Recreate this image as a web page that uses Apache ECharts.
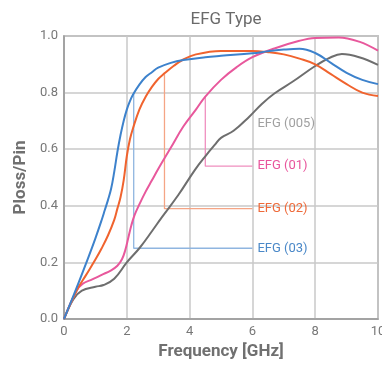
<!DOCTYPE html>
<html>
<head>
<meta charset="utf-8">
<script src="https://cdn.jsdelivr.net/npm/echarts@6/dist/echarts.min.js"></script>
<style>
  html, body { margin: 0; padding: 0; background: #fff; }
  #chart { width: 382px; height: 368px; }
</style>
</head>
<body>
<div id="chart"></div>
<script>
// curves: [GHz, Ploss/Pin]
var efg03 = [[0, 0], [0.4, 0.11], [0.8, 0.225], [1.0, 0.285], [1.2, 0.35], [1.3, 0.385], [1.4, 0.42], [1.5, 0.46],
  [1.6, 0.52], [1.7, 0.59], [1.8, 0.65], [1.9, 0.7], [2.0, 0.74], [2.1, 0.77], [2.2, 0.793], [2.4, 0.828],
  [2.6, 0.855], [2.8, 0.872], [3.0, 0.888], [3.4, 0.905], [3.8, 0.915], [4.5, 0.925], [5.0, 0.93], [6.0, 0.939],
  [6.5, 0.946], [7.0, 0.952], [7.5, 0.955], [8.0, 0.94], [8.5, 0.905], [9.0, 0.87], [9.5, 0.845], [10, 0.83]]
var efg02 = [[0, 0], [0.4, 0.1], [0.7, 0.155], [1.0, 0.21], [1.2, 0.25], [1.4, 0.295], [1.6, 0.35], [1.7, 0.39],
  [1.8, 0.43], [1.9, 0.49], [2.0, 0.575], [2.1, 0.635], [2.2, 0.675], [2.4, 0.74], [2.6, 0.785], [2.8, 0.82],
  [3.0, 0.848], [3.2, 0.868], [3.5, 0.895], [3.8, 0.917], [4.2, 0.935], [5.0, 0.947], [6.0, 0.947], [6.5, 0.943],
  [7.0, 0.935], [7.5, 0.92], [8.0, 0.9], [8.5, 0.865], [9.0, 0.83], [9.5, 0.8], [10, 0.788]]
var efg01 = [[0, 0], [0.4, 0.1], [0.6, 0.125], [0.9, 0.14], [1.2, 0.156], [1.5, 0.172], [1.7, 0.188], [1.85, 0.212],
  [1.95, 0.243], [2.05, 0.288], [2.15, 0.333], [2.25, 0.368], [2.4, 0.405], [2.6, 0.45], [2.8, 0.49], [3.0, 0.53],
  [3.4, 0.605], [3.8, 0.68], [4.2, 0.74], [4.5, 0.786], [5.0, 0.845], [5.5, 0.89], [6.0, 0.925], [6.7, 0.956],
  [7.5, 0.983], [8.0, 0.993], [8.75, 0.995], [9.4, 0.98], [10, 0.948]]
var efg005 = [[0, 0], [0.3, 0.07], [0.57, 0.1], [1.0, 0.114], [1.26, 0.12], [1.6, 0.142], [2.0, 0.2], [2.4, 0.25],
  [2.8, 0.31], [3.12, 0.36], [3.64, 0.438], [4.17, 0.527], [4.5, 0.575], [4.8, 0.615], [5.0, 0.64], [5.4, 0.665],
  [5.9, 0.715], [6.3, 0.76], [6.7, 0.797], [7.3, 0.84], [8.0, 0.894], [8.5, 0.925], [8.85, 0.936], [9.4, 0.925], [10, 0.898]]

// leader lines from the curves to their labels
var lead03 = [[2.22, 0.8], [2.22, 0.25], [6, 0.25]]
var lead02 = [[3.2, 0.868], [3.2, 0.39], [6, 0.39]]
var lead01 = [[4.5, 0.786], [4.5, 0.54], [6, 0.54]]
var label005 = [[6, 0.69]]

var xTicks = [0, 2, 4, 6, 8, 10]
var yTicks = [0, 0.2, 0.4, 0.6, 0.8, 1.0]

var font = 'Roboto, sans-serif'

function curve (name, data, color) {
  return {
    name: name, type: 'line', data: data, smooth: 0.4, symbol: 'none', z: 3,
    lineStyle: { color: color, width: 2 }
  }
}

function leader (name, data, color, textColor) {
  return {
    name: name, type: 'line', data: data, symbol: 'none', z: 2,
    lineStyle: { color: color, width: 1.3 },
    endLabel: { show: true, formatter: name, color: textColor, fontSize: 13, fontFamily: font, distance: 5 }
  }
}

var chart = echarts.init(document.getElementById('chart'))
chart.setOption({
  animation: false,
  title: {
    text: 'EFG Type', left: 221, top: 6, textAlign: 'center',
    textStyle: { color: '#6a6a6a', fontSize: 17, fontWeight: 'normal', fontFamily: font }
  },
  grid: {
    left: 64, right: 4, top: 36, bottom: 49, show: true, borderColor: '#999', borderWidth: 1.5,
    outerBoundsMode: 'none'
  },
  xAxis: {
    type: 'value', min: xTicks[0], max: xTicks[xTicks.length - 1], interval: 2,
    name: 'Frequency [GHz]', nameLocation: 'middle', nameGap: 24,
    nameTextStyle: { color: '#707070', fontSize: 17, fontWeight: 'bold', fontFamily: font },
    axisLine: { lineStyle: { color: '#999', width: 1.5 } },
    axisTick: { show: false },
    axisLabel: { color: '#777', fontSize: 13, fontFamily: font, margin: 6 },
    splitLine: { lineStyle: { color: '#c8c8c8', width: 1.5 } }
  },
  yAxis: {
    type: 'value', min: yTicks[0], max: yTicks[yTicks.length - 1], interval: 0.2,
    name: 'Ploss/Pin', nameLocation: 'middle', nameGap: 32,
    nameTextStyle: { color: '#707070', fontSize: 17, fontWeight: 'bold', fontFamily: font },
    axisLine: { show: true, lineStyle: { color: '#999', width: 1.5 } },
    axisTick: { show: false },
    axisLabel: { color: '#777', fontSize: 13, fontFamily: font, margin: 6, formatter: function (v) { return v.toFixed(1) } },
    splitLine: { lineStyle: { color: '#c8c8c8', width: 1.5 } }
  },
  series: [
    leader('EFG (03)', lead03, '#8fb5e0', '#4a88c8'),
    leader('EFG (02)', lead02, '#f5a585', '#ee6a3a'),
    leader('EFG (01)', lead01, '#f08fbf', '#e8559c'),
    {
      name: 'EFG (005)', type: 'scatter', data: label005, symbolSize: 0, z: 2,
      label: { show: true, position: 'right', formatter: 'EFG (005)', color: '#888', fontSize: 13, fontFamily: font, distance: 5 }
    },
    curve('EFG (005)', efg005, '#6e6e6e'),
    curve('EFG (01)', efg01, '#e8589c'),
    curve('EFG (02)', efg02, '#f0632e'),
    curve('EFG (03)', efg03, '#3d82cc')
  ]
})
</script>
</body>
</html>
